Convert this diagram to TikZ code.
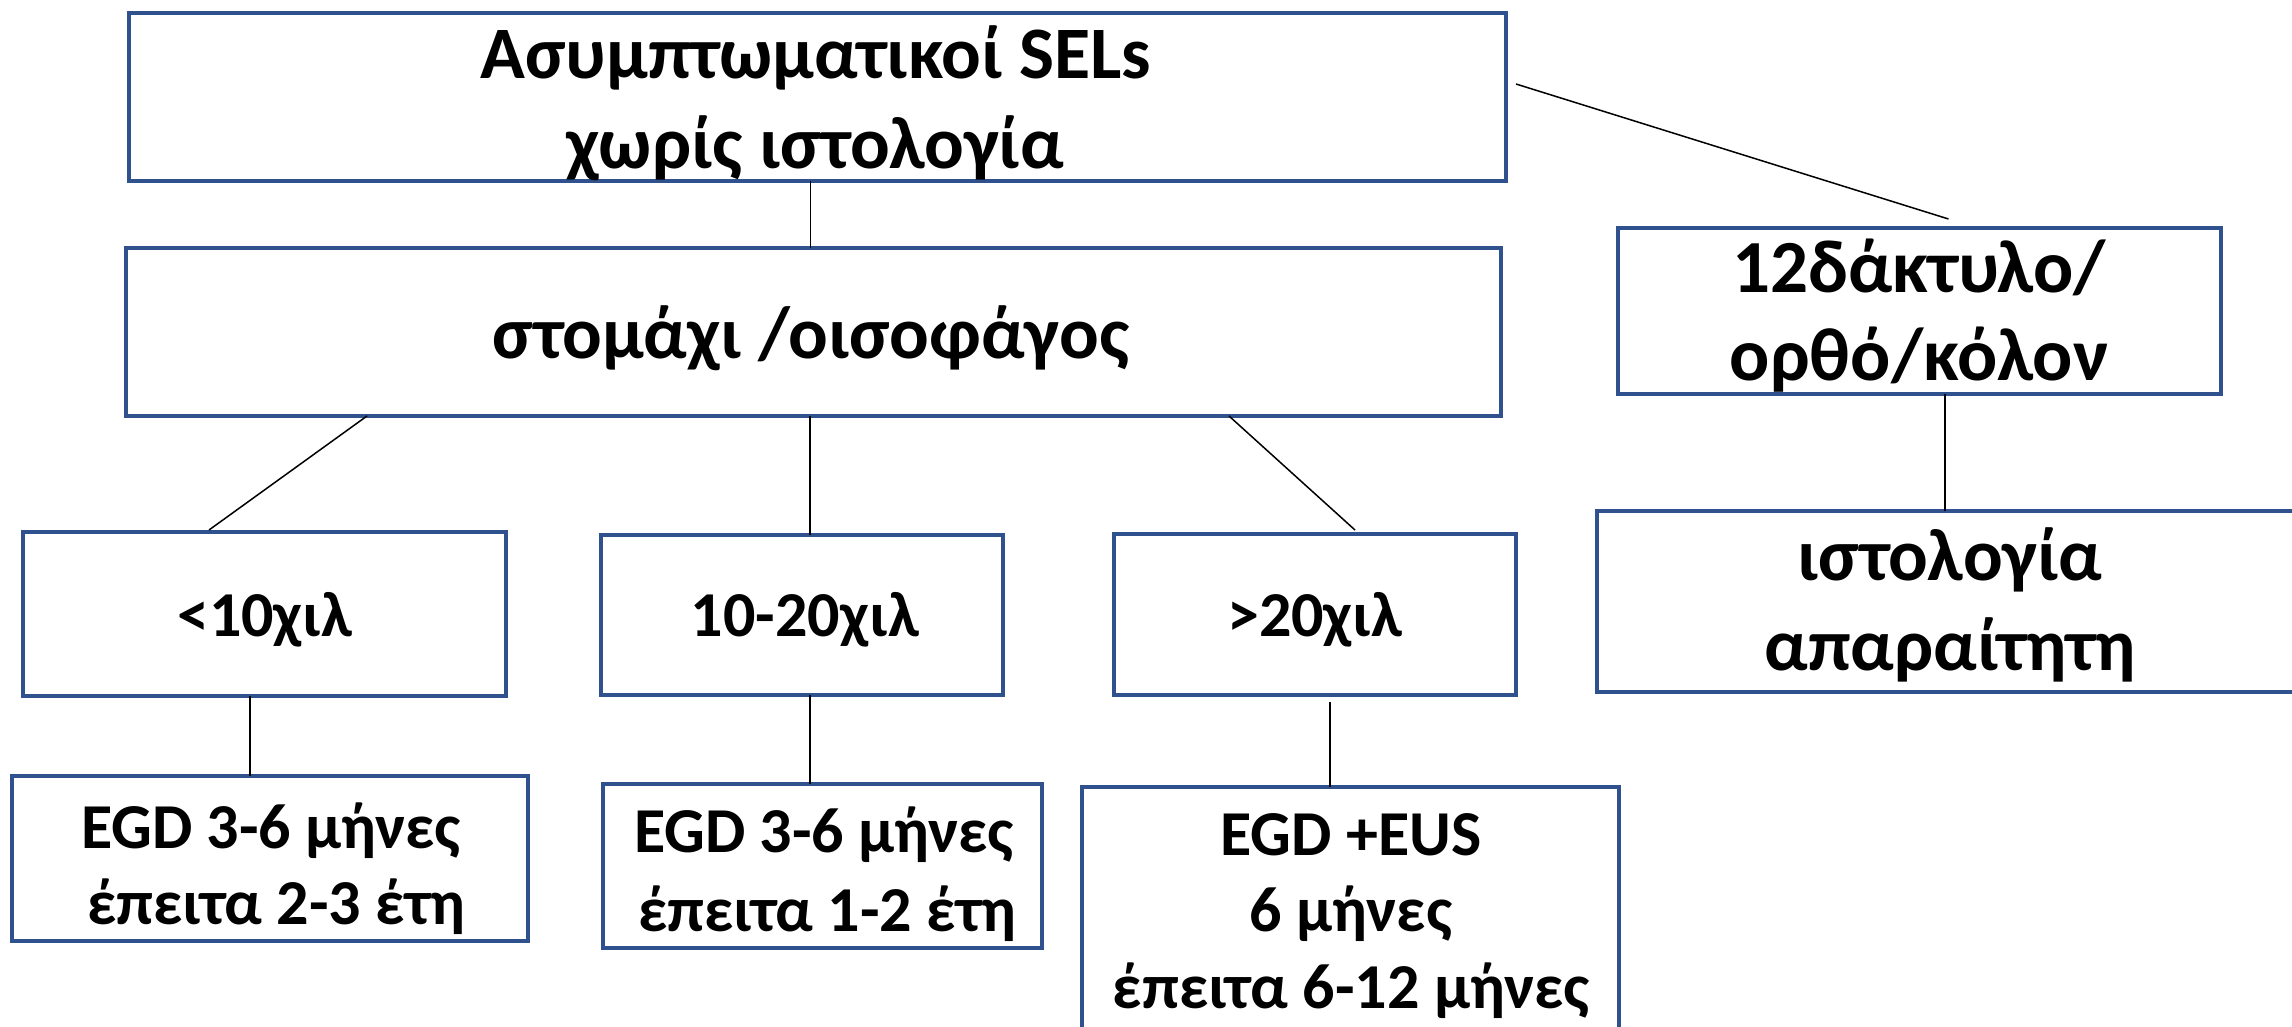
\documentclass[tikz,border=0pt]{standalone}
\usepackage{fontspec}
\setmainfont{Carlito}
\usetikzlibrary{calc}
\definecolor{boxblue}{HTML}{2F528F}
\tikzset{
  box/.style={draw=boxblue, line width=3.5pt, inner sep=0pt, outer sep=0pt},
  bigtxt/.style={anchor=base, inner sep=0pt, font=\fontsize{74}{88}\selectfont\bfseries},
  smalltxt/.style={anchor=base, inner sep=0pt, font=\fontsize{64}{76}\selectfont\bfseries},
  link/.style={draw=black, line width=1.5pt},
}
\begin{document}
\begin{tikzpicture}[x=1pt,y=-1pt]
\useasboundingbox (0,0) rectangle (2292,1026);
\clip (0,0) rectangle (2292,1026);
\fill[white] (0,0) rectangle (2292,1026);

% boxes
\node[box, minimum width=1377pt, minimum height=168pt] (top)   at (817.5,97)   {};
\node[box, minimum width=1375pt, minimum height=168pt] (organ) at (813.5,332)  {};
\node[box, minimum width=603pt,  minimum height=166pt] (lower) at (1919.5,311) {};
\node[box, minimum width=483pt,  minimum height=164pt] (lt)    at (264.5,614)  {};
\node[box, minimum width=402pt,  minimum height=160pt] (mid)   at (802,615)    {};
\node[box, minimum width=402pt,  minimum height=161pt] (gt)    at (1315,614.5) {};
\node[box, minimum width=708pt,  minimum height=181pt] (hist)  at (1951,601.5) {};
\node[box, minimum width=516pt,  minimum height=165pt] (fa)    at (270,858.5)  {};
\node[box, minimum width=439pt,  minimum height=164pt] (fb)    at (822.5,866)  {};
\node[box, minimum width=537pt,  minimum height=313pt] (fc)    at (1350.5,943.5) {};

% labels
\node[bigtxt] (t1a) at (816,78)   {Ασυμπτωματικοί SELs};
\node[bigtxt] (t1b) at (815,168)  {χωρίς ιστολογία};
\node[bigtxt] (t2)  at (811,358)  {στομάχι /οισοφάγος};
\node[bigtxt, font=\fontsize{75}{88}\selectfont\bfseries] (t3a) at (1919,292) {12δάκτυλο/};
\node[bigtxt, font=\fontsize{75}{88}\selectfont\bfseries] (t3b) at (1919,380) {ορθό/κόλον};
\node[smalltxt] (t4) at (265,636)  {<10χιλ};
\node[smalltxt] (t5) at (805,636)  {10-20χιλ};
\node[smalltxt] (t6) at (1315,636) {>20χιλ};
\node[bigtxt] (t7a) at (1950,580) {ιστολογία};
\node[bigtxt] (t7b) at (1950,670) {απαραίτητη};
\node[smalltxt] (t8a) at (271,848) {EGD 3-6 μήνες};
\node[smalltxt] (t8b) at (276,924) {έπειτα 2-3 έτη};
\node[smalltxt] (t9a) at (824,852) {EGD 3-6 μήνες};
\node[smalltxt] (t9b) at (827,931) {έπειτα 1-2 έτη};
\node[smalltxt] (t10a) at (1351,855) {EGD +EUS};
\node[smalltxt] (t10b) at (1351,931) {6 μήνες};
\node[smalltxt] (t10c) at (1351,1008) {έπειτα 6-12 μήνες};

% free ends of the connectors that stop short of a box
\coordinate (topR)  at ($(top.east)+(10,-13)$);
\coordinate (lowT)  at ($(lower.north)+(29,-9)$);
\coordinate (gtT)   at ($(gt.north west)+(241,-4)$);
\coordinate (gtB)   at ($(gt.south west)+(216,7)$);

% connectors
\draw[link] ($(top.south)+(-7,0)$) -- ($(organ.north)+(-3,0)$);
\draw[link] (topR) -- (lowT);
\draw[link] ($(organ.south west)+(241,0)$) -- ($(lt.north west)+(186,-2)$);
\draw[link] ($(organ.south west)+(684,0)$) -- ($(mid.north west)+(209,0)$);
\draw[link] ($(organ.south west)+(1103,0)$) -- (gtT);
\draw[link] ($(lower.south west)+(327,0)$) -- ($(hist.north west)+(348,0)$);
\draw[link] ($(lt.south west)+(227,0)$) -- ($(fa.north west)+(238,0)$);
\draw[link] ($(mid.south west)+(209,0)$) -- ($(fb.north west)+(207,0)$);
\draw[link] (gtB) -- ($(fc.north west)+(248,0)$);
\end{tikzpicture}
\end{document}
